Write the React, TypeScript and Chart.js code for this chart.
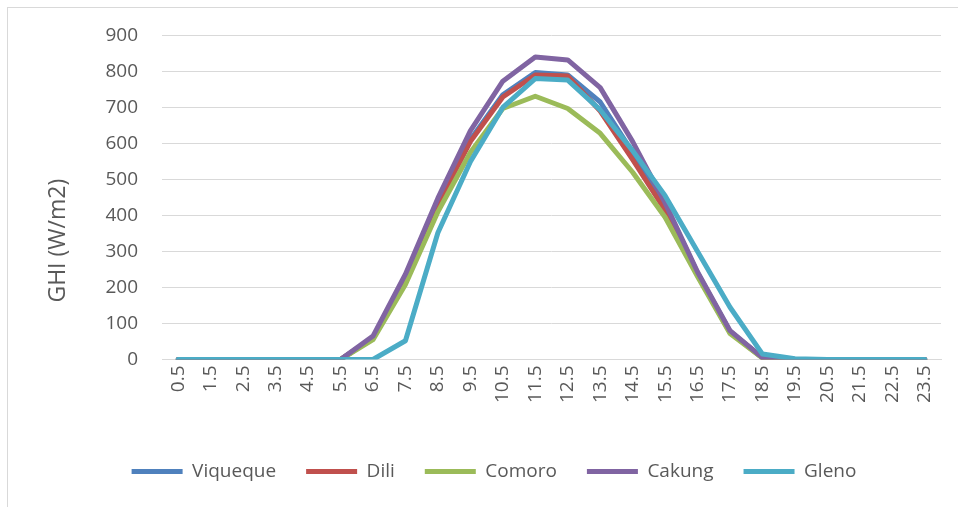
import React, { useEffect, useRef } from "react";
import { Chart, registerables } from "chart.js";

Chart.register(...registerables);

const hours = [
  "0.5", "1.5", "2.5", "3.5", "4.5", "5.5", "6.5", "7.5", "8.5", "9.5", "10.5", "11.5",
  "12.5", "13.5", "14.5", "15.5", "16.5", "17.5", "18.5", "19.5", "20.5", "21.5", "22.5", "23.5",
];

const viqueque = [0, 0, 0, 0, 0, 0, 60, 228, 435, 610, 735, 797, 790, 715, 575, 430, 240, 78, 5, 0, 0, 0, 0, 0];
const dili = [0, 0, 0, 0, 0, 0, 60, 225, 430, 605, 729, 790, 787, 690, 555, 415, 235, 75, 5, 0, 0, 0, 0, 0];
const comoro = [0, 0, 0, 0, 0, 0, 55, 208, 410, 575, 697, 731, 697, 628, 520, 395, 230, 72, 4, 0, 0, 0, 0, 0];
const cakung = [0, 0, 0, 0, 0, 0, 65, 237, 448, 635, 773, 840, 832, 755, 605, 435, 243, 80, 5, 0, 0, 0, 0, 0];
const gleno = [0, 0, 0, 0, 0, 0, 0, 52, 352, 549, 700, 780, 776, 693, 580, 455, 300, 145, 15, 2, 0, 0, 0, 0];

const yTicks = [0, 100, 200, 300, 400, 500, 600, 700, 800, 900];
const yTitle = "GHI (W/m2)";

const seriesNames = ["Viqueque", "Dili", "Comoro", "Cakung", "Gleno"];
const seriesColors = ["#4F81BD", "#C0504D", "#9BBB59", "#8064A2", "#4BACC6"];
const seriesValues = [viqueque, dili, comoro, cakung, gleno];

const FONT = "'Open Sans', 'Noto Sans', sans-serif";
const TEXT = "#595959";

// Draws the y-axis title centred on the plot plus its category labels, as Excel does.
const yTitlePlugin = {
  id: "yTitleCentred",
  afterDraw(chart: any) {
    const { ctx, chartArea } = chart;
    const x = chart.scales.x;
    const cy = (chartArea.top + x.bottom) / 2 + 7;
    ctx.save();
    ctx.translate(58, cy);
    ctx.rotate(-Math.PI / 2);
    ctx.fillStyle = TEXT;
    ctx.font = `23px ${FONT}`;
    ctx.textAlign = "center";
    ctx.textBaseline = "middle";
    ctx.fillText(yTitle, 0, 0);
    ctx.restore();
  },
};

export default function App() {
  const ref = useRef<HTMLCanvasElement | null>(null);

  useEffect(() => {
    if (!ref.current) return;
    const chart = new Chart(ref.current, {
      type: "line",
      data: {
        labels: hours,
        datasets: seriesNames.map((name, i) => ({
          label: name,
          data: seriesValues[i],
          borderColor: seriesColors[i],
          backgroundColor: seriesColors[i],
          borderWidth: 5,
          pointRadius: 0,
          pointHoverRadius: 0,
          tension: 0,
          fill: false,
          borderCapStyle: "round" as const,
          borderJoinStyle: "round" as const,
          order: seriesNames.length - i,
        })),
      },
      options: {
        responsive: false,
        animation: false,
        layout: { padding: { left: 47, right: 17, top: 33, bottom: 19 } },
        plugins: {
          tooltip: { enabled: false },
          legend: {
            position: "bottom",
            labels: {
              usePointStyle: true,
              pointStyle: "line",
              pointStyleWidth: 51,
              padding: 30,
              color: TEXT,
              font: { family: FONT, size: 19 },
              sort: (a: any, b: any) => a.datasetIndex - b.datasetIndex,
            },
          },
        },
        scales: {
          x: {
            offset: true,
            grid: { display: false, drawTicks: false },
            border: { display: true, color: "#D9D9D9", width: 1 },
            ticks: {
              autoSkip: false,
              minRotation: 90,
              maxRotation: 90,
              padding: 6,
              color: TEXT,
              font: { family: FONT, size: 19 },
            },
            afterFit: (scale: any) => {
              scale.height = 72.5;
            },
          },
          y: {
            min: 0,
            max: 900,
            afterBuildTicks: (scale: any) => {
              scale.ticks = yTicks.map((v) => ({ value: v }));
            },
            grid: { color: "#D9D9D9", lineWidth: 1, drawTicks: false },
            border: { display: false },
            ticks: {
              padding: 24,
              color: TEXT,
              font: { family: FONT, size: 19 },
            },
            afterFit: (scale: any) => {
              scale.width = 115;
            },
          },
        },
      },
      plugins: [yTitlePlugin],
    });
    return () => chart.destroy();
  }, []);

  return (
    <div>
      <div
        style={{
          position: "fixed",
          left: 7,
          top: 7,
          width: 970,
          height: 520,
          border: "1px solid #D9D9D9",
          boxSizing: "border-box",
        }}
      />
      <canvas
        ref={ref}
        width={958}
        height={510}
        style={{ position: "fixed", left: 0, top: 0, width: 958, height: 510 }}
      />
    </div>
  );
}
